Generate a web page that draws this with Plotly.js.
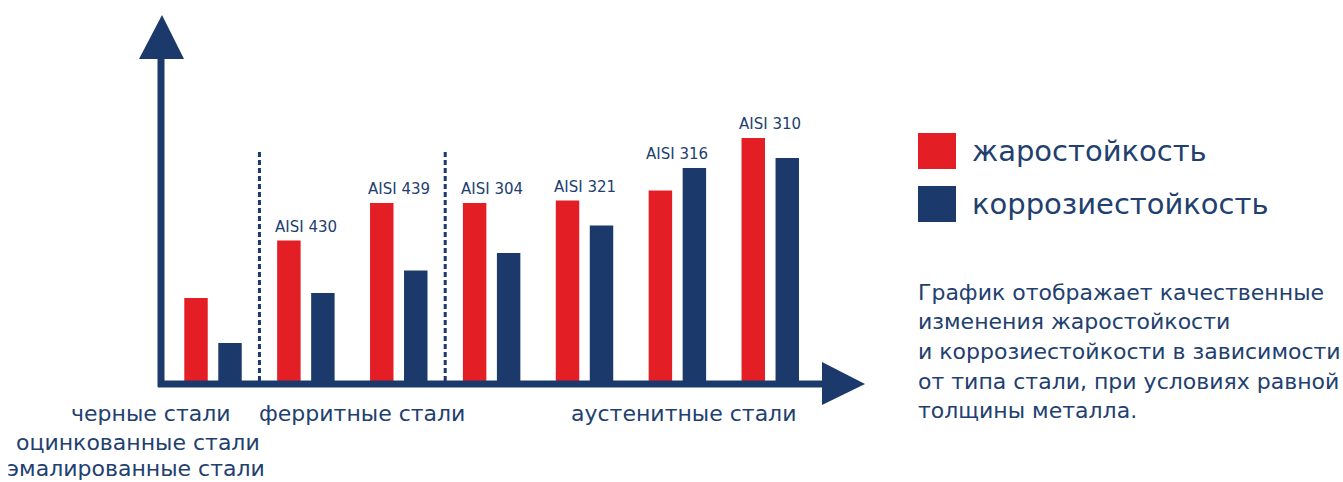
<!DOCTYPE html>
<html>
<head>
<meta charset="utf-8">
<script src="https://cdn.plot.ly/plotly-3.0.1.min.js"></script>
<style>html,body{margin:0;padding:0;background:#fff;}#chart{width:1343px;height:482px;}</style>
</head>
<body>
<div id="chart"></div>
<script>
// ---- data ----
const categories = ["углеродистые", "AISI 430", "AISI 439", "AISI 304", "AISI 321", "AISI 316", "AISI 310"];
const barLabels = ["", "AISI 430", "AISI 439", "AISI 304", "AISI 321", "AISI 316", "AISI 310"];
const heatResistance = [34, 57, 72, 72, 73, 77, 98];
const corrosionResistance = [16, 36, 45, 52, 63, 86, 90];
const seriesNames = ["жаростойкость", "коррозиестойкость"];
const groupNames = ["черные стали", "оцинкованные стали", "эмалированные стали", "ферритные стали", "аустенитные стали"];
const note = ["График отображает качественные", "изменения жаростойкости", "и коррозиестойкости в зависимости", "от типа стали, при условиях равной", "толщины металла."];

// ---- style ----
const RED = "#e31e25";
const NAVY = "#1b3a6b";
const TEXT = "#22406f";
const FONT = "DejaVu Sans, Open Sans, sans-serif";

// plot area in pixels
const L = 161, R = 865, T = 15, B = 383, W = 1343, H = 482;
const px = p => (p - L) / (R - L);
const py = p => (B - p) / (B - T);

const traces = [
  {type: "bar", name: seriesNames[0], x: categories, y: heatResistance, marker: {color: RED}, hoverinfo: "skip"},
  {type: "bar", name: seriesNames[1], x: categories, y: corrosionResistance, marker: {color: NAVY}, hoverinfo: "skip"}
];

const annotations = [];
categories.forEach((c, i) => {
  if (!barLabels[i]) return;
  annotations.push({
    x: c, y: Math.max(heatResistance[i], corrosionResistance[i]), xref: "x", yref: "y",
    text: barLabels[i], showarrow: false, xanchor: "center", yanchor: "middle", yshift: 14,
    font: {family: FONT, size: 15, color: TEXT}
  });
});
// group labels below axis
const groupPos = [[151, 413], [138, 442], [136, 468], [362, 413], [683, 413]];
groupNames.forEach((g, i) => {
  annotations.push({
    x: px(groupPos[i][0]), y: py(groupPos[i][1]), xref: "paper", yref: "paper",
    text: g, showarrow: false, xanchor: "center", yanchor: "middle",
    font: {family: FONT, size: 22, color: TEXT}
  });
});
// legend texts
const legendY = [151, 204];
seriesNames.forEach((s, i) => {
  annotations.push({
    x: px(970), y: py(legendY[i]), xref: "paper", yref: "paper",
    text: s, showarrow: false, xanchor: "left", yanchor: "middle",
    font: {family: FONT, size: 29, color: TEXT}
  });
});
// note, one annotation per line
const noteY = [292, 321, 351, 381, 410];
note.forEach((line, i) => {
  annotations.push({
    x: px(916), y: py(noteY[i]), xref: "paper", yref: "paper",
    text: line, showarrow: false, xanchor: "left", yanchor: "middle", align: "left",
    font: {family: FONT, size: 22, color: TEXT}
  });
});

const shapes = [
  // y axis line
  {type: "line", xref: "paper", yref: "paper", x0: 0, x1: 0, y0: py(387), y1: py(58), line: {color: NAVY, width: 7}, layer: "above"},
  // y arrow head
  {type: "path", xref: "paper", yref: "paper", path: `M ${px(139)} ${py(59)} L ${px(162)} ${py(15)} L ${px(184)} ${py(59)} Z`, fillcolor: NAVY, line: {width: 0}, layer: "above"},
  // x axis line
  {type: "line", xref: "paper", yref: "paper", x0: px(158), x1: px(823), y0: py(384), y1: py(384), line: {color: NAVY, width: 7}, layer: "above"},
  // x arrow head
  {type: "path", xref: "paper", yref: "paper", path: `M ${px(822)} ${py(362)} L ${px(865)} ${py(384)} L ${px(822)} ${py(405)} Z`, fillcolor: NAVY, line: {width: 0}, layer: "above"},
  // group dividers
  {type: "line", xref: "x", yref: "paper", x0: 0.5, x1: 0.5, y0: py(381), y1: py(150), line: {color: NAVY, width: 3, dash: "5px,3px"}},
  {type: "line", xref: "x", yref: "paper", x0: 2.5, x1: 2.5, y0: py(381), y1: py(150), line: {color: NAVY, width: 3, dash: "5px,3px"}},
  // legend squares
  {type: "rect", xref: "paper", yref: "paper", x0: px(918), x1: px(956), y0: py(133), y1: py(169), fillcolor: RED, line: {width: 0}},
  {type: "rect", xref: "paper", yref: "paper", x0: px(918), x1: px(956), y0: py(186), y1: py(222), fillcolor: NAVY, line: {width: 0}}
];

const layout = {
  width: W, height: H,
  margin: {l: L, r: W - R, t: T, b: H - B, pad: 0},
  paper_bgcolor: "#ffffff", plot_bgcolor: "#ffffff",
  showlegend: false,
  barmode: "group", bargap: 0.268, bargroupgap: 0.31,
  xaxis: {type: "category", range: [-0.56, 7.02], showticklabels: false, showgrid: false, zeroline: false, showline: false, ticks: "", fixedrange: true},
  yaxis: {range: [0, 147.2], showticklabels: false, showgrid: false, zeroline: false, showline: false, ticks: "", fixedrange: true},
  shapes: shapes,
  annotations: annotations
};

Plotly.newPlot("chart", traces, layout, {displayModeBar: false, staticPlot: true});
</script>
</body>
</html>
